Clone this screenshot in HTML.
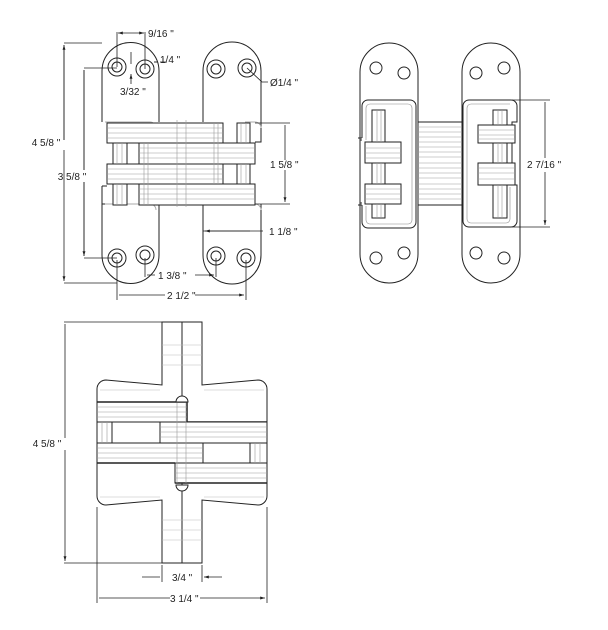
<!DOCTYPE html>
<html><head><meta charset="utf-8"><style>
html,body{margin:0;padding:0;background:#fff;}
svg{display:block;}
text{font-family:"Liberation Sans",sans-serif;font-size:10px;fill:#222;}
</style></head><body>
<svg width="608" height="630" viewBox="0 0 608 630" xmlns="http://www.w3.org/2000/svg">
<defs>
<marker id="a" viewBox="0 0 10 10" refX="10" refY="5" markerWidth="6" markerHeight="6" orient="auto-start-reverse"><path d="M0,2 L10,5 L0,8 z" fill="#222"/></marker>
</defs>
<g fill="none" stroke="#222" stroke-width="1">
<!-- FRONT VIEW -->
<path d="M102,122 V71 A28.5,28.5 0 0 1 159,71 V122"/>
<path d="M203,122 V71 A29,29 0 0 1 261,71 V142 H255"/>
<path d="M102,186 V255 A28.5,28.5 0 0 0 159,255 V204"/>
<path d="M203,204 V255 A29,29 0 0 0 261,255 V204"/>
<path d="M102,186 H107 M102,204 H107" />
<g stroke="#aaa"><path d="M105,122 h45 a6,6 0 0 1 6,6 M245,122 h10 a6,6 0 0 1 6,6 M105,204 h45 a6,6 0 0 1 6,6 M235,204 h20 a6,6 0 0 1 6,6"/></g>
<rect x="107" y="123" width="116" height="20" fill="#fff"/>
<rect x="139" y="143" width="116" height="21" fill="#fff"/>
<rect x="107" y="164" width="116" height="20" fill="#fff"/>
<rect x="139" y="184" width="116" height="21" fill="#fff"/>
<g stroke="#999" stroke-width="0.6">
<path d="M107,128 H223 M107,133 H223 M107,138 H223 M107,169 H223 M107,174 H223 M107,179 H223"/>
<path d="M139,148 H255 M139,153 H255 M139,158 H255 M139,189 H255 M139,194 H255 M139,199 H255"/>
<path d="M177,120 V207 M186,120 V207 M144,143 V205 M148,143 V205 M214,123 V184 M218,123 V184"/>
</g>
<rect x="113" y="143" width="14" height="21" fill="#fff"/><rect x="113" y="184" width="14" height="21" fill="#fff"/>
<rect x="237" y="123" width="13" height="20" fill="#fff"/><rect x="237" y="164" width="13" height="20" fill="#fff"/>
<g stroke="#999" stroke-width="0.6"><path d="M117,143V164 M122,143V164 M117,184V205 M122,184V205 M241,123V143 M246,123V143 M241,164V184 M246,164V184"/></g>
<g>
<circle cx="117" cy="67" r="9"/><circle cx="117" cy="67" r="5"/>
<circle cx="145" cy="69" r="9"/><circle cx="145" cy="69" r="5"/>
<circle cx="216" cy="69" r="9"/><circle cx="216" cy="69" r="5"/>
<circle cx="247" cy="68" r="9"/><circle cx="247" cy="68" r="5"/>
<circle cx="117" cy="258" r="9"/><circle cx="117" cy="258" r="5"/>
<circle cx="145" cy="255" r="9"/><circle cx="145" cy="255" r="5"/>
<circle cx="216" cy="256" r="9"/><circle cx="216" cy="256" r="5"/>
<circle cx="246" cy="258" r="9"/><circle cx="246" cy="258" r="5"/>
</g>
<!-- front dims -->
<g stroke-width="0.8">
<path d="M64,43 H102 M64,283 H117 M84,68 H117 M84,258 H117"/>
<path d="M64,45 V140 M64,150 V281" marker-end="url(#a)"/>
<path d="M64,140 V45" marker-end="url(#a)"/>
<path d="M84,70 V170 M84,182 V256"/>
<path d="M84,170 V70 M84,182 V256" marker-end="url(#a)"/>
<path d="M117,32 V67 M145,32 V69"/>
<path d="M118,33 H144" marker-start="url(#a)" marker-end="url(#a)"/>
<path d="M131,52 V64 M131,84 V74" marker-end="url(#a)"/>
<path d="M154,62 H158 M166,62 H160" />
<path d="M163,62 V58 M157,62 L154,62"/>
<path d="M247,68 L262,82 H268"/>
<path d="M255,123 H290 M255,204 H290"/>
<path d="M285,160 V125 M285,170 V202" marker-end="url(#a)"/>
<path d="M203,231 H263 M261,220 V240"/>
<path d="M205,231 H250" marker-start="url(#a)"/>
<path d="M145,258 V277 M216,258 V277"/>
<path d="M155,275 H147 M195,275 H214" marker-end="url(#a)"/>
<path d="M117,260 V300 M246,260 V300"/>
<path d="M165,295 H119 M195,295 H244" marker-end="url(#a)"/>
</g>

<!-- SIDE VIEW -->
<rect x="360" y="43" width="58" height="240" rx="29"/>
<rect x="462" y="43" width="58" height="240" rx="29"/>
<path d="M362,138 V106 a6,6 0 0 1 6,-6 H410 a6,6 0 0 1 6,6 V222 a6,6 0 0 1 -6,6 H368 a6,6 0 0 1 -6,-6 V205"/>
<path d="M362,138 H358 M362,205 H358 M360,203 H362 M360,140 H362"/>
<path d="M469,100 H511 a6,6 0 0 1 6,6 V122 H512 V185 H517 V221 a6,6 0 0 1 -6,6 H469 a6,6 0 0 1 -6,-6 V106 a6,6 0 0 1 6,-6 Z"/>
<path d="M366,140 V108 a4,4 0 0 1 4,-4 H408 a4,4 0 0 1 4,4 V220 a4,4 0 0 1 -4,4 H370 a4,4 0 0 1 -4,-4 V206" stroke="#888" stroke-width="0.6"/>
<path d="M471,104 H510 M510,187 V219 a4,4 0 0 1 -4,4 H471 a4,4 0 0 1 -4,-4 V108 a4,4 0 0 1 4,-4" stroke="#888" stroke-width="0.6"/>
<rect x="418" y="122" width="44" height="83" fill="#fff"/>
<g stroke="#999" stroke-width="0.6"><path d="M418,127H462 M418,132H462 M418,137H462 M418,142H462 M418,147H462 M418,152H462 M418,157H462 M418,163H462 M418,168H462 M418,173H462 M418,178H462 M418,184H462 M418,189H462 M418,194H462 M418,199H462"/></g>
<rect x="372" y="110" width="13" height="108" fill="#fff"/>
<rect x="365" y="142" width="36" height="21" fill="#fff"/>
<rect x="365" y="184" width="36" height="20" fill="#fff"/>
<rect x="493" y="110" width="14" height="108" fill="#fff"/>
<rect x="478" y="125" width="37" height="18" fill="#fff"/>
<rect x="478" y="163" width="37" height="22" fill="#fff"/>
<g stroke="#999" stroke-width="0.6">
<path d="M377,110V142 M381,110V142 M377,163V184 M381,163V184 M377,204V218 M381,204V218"/>
<path d="M498,110V125 M502,110V125 M498,143V163 M502,143V163 M498,185V218 M502,185V218"/>
<path d="M365,148H401 M365,153H401 M365,158H401 M365,189H401 M365,194H401 M365,199H401 M478,130H515 M478,135H515 M478,139H515 M478,168H515 M478,173H515 M478,179H515"/>
</g>
<circle cx="376" cy="68" r="6"/><circle cx="404" cy="73" r="6"/>
<circle cx="376" cy="258" r="6"/><circle cx="404" cy="253" r="6"/>
<circle cx="476" cy="73" r="6"/><circle cx="504" cy="68" r="6"/>
<circle cx="476" cy="253" r="6"/><circle cx="504" cy="258" r="6"/>
<g stroke-width="0.8">
<path d="M512,100 H550 M512,227 H550"/>
<path d="M545,158 V102 M545,172 V225" marker-end="url(#a)"/>
</g>

<!-- BOTTOM VIEW -->
<path d="M162,322 H202 V385 L258,380 a9,9 0 0 1 9,9 V496 a9,9 0 0 1 -9,9 L202,500 V563 H162 V500 L106,505 a9,9 0 0 1 -9,-9 V389 a9,9 0 0 1 9,-9 L162,385 Z"/>
<path d="M182,322 V563"/>
<g stroke="#bbb" stroke-width="0.6"><path d="M162,345 H202 M162,355 H202 M162,365 H202 M162,520 H202 M162,530 H202 M162,540 H202 M100,390 H160 M204,390 H264 M100,497 H160 M204,497 H264"/></g>
<rect x="97" y="402" width="90" height="20" fill="#fff"/>
<path d="M187,402 V422 H267 M97,402 H187" stroke-width="1.5"/>
<rect x="160" y="422" width="107" height="21" fill="#fff"/>
<rect x="97" y="443" width="106" height="20" fill="#fff"/>
<rect x="175" y="463" width="92" height="20" fill="#fff"/>
<path d="M97,463 H175 M175,483 H267" stroke-width="1.5"/>
<rect x="97" y="422" width="15" height="21" fill="#fff"/>
<rect x="250" y="443" width="17" height="20" fill="#fff"/>
<g stroke="#999" stroke-width="0.6">
<path d="M97,407H187 M97,412H187 M97,417H187 M160,427H267 M160,432H267 M160,437H267 M97,448H203 M97,453H203 M97,458H203 M175,468H267 M175,473H267 M175,478H267"/>
<path d="M102,422V443 M107,422V443 M255,443V463 M260,443V463 M177,402V483 M186,402V483"/>
</g>
<path d="M176,402 a6,6 0 0 1 12,0 Z M176,485 a6,6 0 0 0 12,0 Z" fill="#fff"/>
<g stroke-width="0.8">
<path d="M64,322 H162 M64,563 H162"/>
<path d="M65,438 V324 M65,450 V561" marker-end="url(#a)"/>
<path d="M162,565 V582 M202,565 V582"/>
<path d="M142,577 H160 M222,577 H204" marker-end="url(#a)"/>
<path d="M97,507 V603 M267,507 V603"/>
<path d="M170,598 H99 M200,598 H265" marker-end="url(#a)"/>
</g>
</g>
<text x="46" y="146" text-anchor="middle">4 5/8 "</text>
<text x="72" y="180" text-anchor="middle">3 5/8 "</text>
<text x="148" y="37">9/16 "</text>
<text x="160" y="63">1/4 "</text>
<text x="120" y="95">3/32 "</text>
<text x="270" y="86">Ø1/4 "</text>
<text x="270" y="168">1 5/8 "</text>
<text x="269" y="235">1 1/8 "</text>
<text x="158" y="279">1 3/8 "</text>
<text x="167" y="299">2 1/2 "</text>
<text x="527" y="168">2  7/16 "</text>
<text x="47" y="447" text-anchor="middle">4 5/8 "</text>
<text x="172" y="581">3/4 "</text>
<text x="170" y="602">3 1/4 "</text>
</svg>
</body></html>
